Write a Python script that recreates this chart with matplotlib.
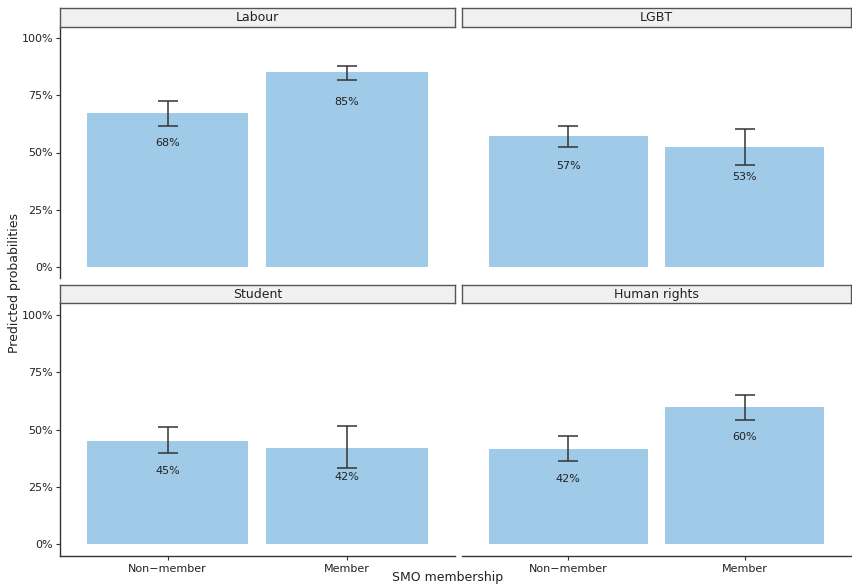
import matplotlib.pyplot as plt
import numpy as np

# predicted probabilities per facet (Non-member, Member)
groups = ['Non\u2212member', 'Member']
facets = ['Labour', 'LGBT', 'Student', 'Human rights']
prob = {
    'Labour': [0.673, 0.850],
    'LGBT': [0.571, 0.524],
    'Student': [0.450, 0.421],
    'Human rights': [0.415, 0.596],
}
lower = {
    'Labour': [0.617, 0.818],
    'LGBT': [0.523, 0.447],
    'Student': [0.397, 0.334],
    'Human rights': [0.363, 0.542],
}
upper = {
    'Labour': [0.726, 0.879],
    'LGBT': [0.617, 0.603],
    'Student': [0.510, 0.516],
    'Human rights': [0.471, 0.649],
}
labels = {
    'Labour': ['68%', '85%'],
    'LGBT': ['57%', '53%'],
    'Student': ['45%', '42%'],
    'Human rights': ['42%', '60%'],
}
yticks = [0, 0.25, 0.5, 0.75, 1.0]
yticklabels = ['0%', '25%', '50%', '75%', '100%']

W, H = 852, 586
fig = plt.figure(figsize=(W / 100, H / 100), dpi=100)

bar_col = '#9fcbe8'
axis_col = '#333333'

# panel boxes in pixels: (left, top, right, bottom)
cols = [(60, 454.5), (462, 851)]
rows = [(26.7, 278.3), (303.3, 555.7)]
strip_h = 18.5

for i, name in enumerate(facets):
    r, c = divmod(i, 2)
    x0, x1 = cols[c]
    y0, y1 = rows[r]
    ax = fig.add_axes([x0 / W, 1 - y1 / H, (x1 - x0) / W, (y1 - y0) / H])
    x = np.arange(1, len(groups) + 1)
    ax.bar(x, prob[name], width=0.9, color=bar_col, zorder=1)
    p = np.array(prob[name])
    ax.errorbar(x, p, yerr=[p - np.array(lower[name]), np.array(upper[name]) - p],
                fmt='none', ecolor='#333333', elinewidth=1.1, capsize=7,
                capthick=1.1, zorder=3)
    for xi, v, lab in zip(x, prob[name], labels[name]):
        ax.text(xi, v - 0.13, lab, ha='center', va='center', fontsize=8,
                color='#222222', zorder=4)
    ax.set_xlim(0.4, 2.6)
    ax.set_ylim(-0.05, 1.05)
    for s in ['top', 'right']:
        ax.spines[s].set_visible(False)
    ax.spines['left'].set_visible(c == 0)
    ax.spines['bottom'].set_visible(r == 1)
    for s in ['left', 'bottom']:
        ax.spines[s].set_color(axis_col)
        ax.spines[s].set_linewidth(1.0)
    ax.set_yticks(yticks)
    if c == 0:
        ax.set_yticklabels(yticklabels)
        ax.tick_params(axis='y', length=3, color=axis_col, labelsize=8,
                       labelcolor='#222222', pad=2)
    else:
        ax.tick_params(axis='y', left=False, labelleft=False)
    ax.set_xticks(x)
    if r == 1:
        ax.set_xticklabels(groups)
        ax.tick_params(axis='x', length=3, color=axis_col, labelsize=8,
                       labelcolor='#222222', pad=3)
    else:
        ax.tick_params(axis='x', bottom=False, labelbottom=False)

    # facet strip
    sax = fig.add_axes([x0 / W, 1 - y0 / H, (x1 - x0) / W, strip_h / H])
    sax.set_facecolor('#f0f0f0')
    sax.set_xticks([])
    sax.set_yticks([])
    for s in sax.spines.values():
        s.set_color('#555555')
        s.set_linewidth(1.0)
    sax.text(0.5, 0.5, name, ha='center', va='center', fontsize=9,
             color='#222222', transform=sax.transAxes)

fig.text(448 / W, 1 - 578 / H, 'SMO membership', ha='center', va='center',
         fontsize=9, color='#222222')
fig.text(15 / W, 1 - 283 / H, 'Predicted probabilities', ha='center',
         va='center', rotation=90, fontsize=9, color='#222222')

fig.savefig('out.png', dpi=100)
